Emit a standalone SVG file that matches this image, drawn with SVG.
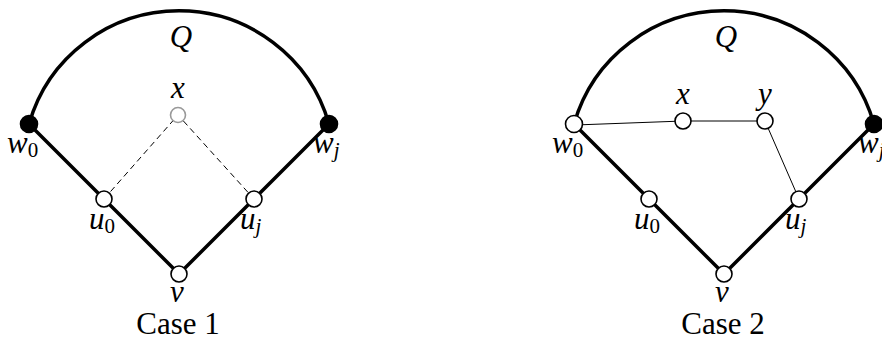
<svg xmlns="http://www.w3.org/2000/svg" width="882" height="345" viewBox="0 0 882 345">
<style>
.thick{fill:none;stroke:#000;stroke-width:3.5;stroke-linecap:round}
.thin{fill:none;stroke:#000;stroke-width:1}
.dash{fill:none;stroke:#000;stroke-width:1;stroke-dasharray:6 4}
.node{fill:#fff;stroke:#000;stroke-width:1.6}
.blk{fill:#000;stroke:#000;stroke-width:1.6}
.gray{fill:#fff;stroke:#999;stroke-width:1.6}
.m{font-family:"Liberation Serif","DejaVu Serif",serif;font-style:italic;font-size:31px;fill:#000}
.s{font-style:normal;font-size:21px}
.sj{font-style:italic;font-size:21px}
.c{font-family:"Liberation Serif","DejaVu Serif",serif;font-size:31px;fill:#000}
</style>
<rect width="882" height="345" fill="#fff"/>
<g id="connectors">
<path class="thick" d="M29 124 A156 156 0 0 1 329 124"/>
<path class="thick" d="M29 124 L179 274 L329 124"/>
<path class="dash" d="M104 199 L178 115 L254 199"/>
<path class="thick" d="M574 124 A156 156 0 0 1 874 124"/>
<path class="thick" d="M574 124 L724 274 L874 124"/>
<path class="thin" d="M575 125 L683 121 L765 121 L799 199"/>
</g>
<g id="case1">
<text class="m" x="181" y="47" text-anchor="middle">Q</text>
<g id="c1-x"><circle class="gray" cx="178" cy="115" r="7.5"/><text class="m" x="178" y="98" text-anchor="middle">x</text></g>
<g id="c1-w0"><circle class="blk" cx="29" cy="124" r="8.5"/><text class="m" x="7" y="153">w<tspan class="s" dy="4">0</tspan></text></g>
<g id="c1-wj"><circle class="blk" cx="329" cy="124" r="8.5"/><text class="m" x="313" y="153">w<tspan class="sj" dy="4">j</tspan></text></g>
<g id="c1-u0"><circle class="node" cx="104" cy="199" r="8"/><text class="m" x="89" y="229">u<tspan class="s" dy="4">0</tspan></text></g>
<g id="c1-uj"><circle class="node" cx="254" cy="199" r="8"/><text class="m" x="240" y="229">u<tspan class="sj" dy="4">j</tspan></text></g>
<g id="c1-v"><circle class="node" cx="179" cy="274" r="8"/><text class="m" x="177" y="302" text-anchor="middle">v</text></g>
<text class="c" x="178" y="334" text-anchor="middle">Case 1</text>
</g>
<g id="case2">
<text class="m" x="726" y="47" text-anchor="middle">Q</text>
<g id="c2-x"><circle class="node" cx="683" cy="121" r="8"/><text class="m" x="683" y="104" text-anchor="middle">x</text></g>
<g id="c2-y"><circle class="node" cx="765" cy="121" r="8"/><text class="m" x="765" y="104" text-anchor="middle">y</text></g>
<g id="c2-w0"><circle class="node" cx="574" cy="124" r="8.5"/><text class="m" x="552" y="153">w<tspan class="s" dy="4">0</tspan></text></g>
<g id="c2-wj"><circle class="blk" cx="874" cy="124" r="8.5"/><text class="m" x="858" y="153">w<tspan class="sj" dy="4">j</tspan></text></g>
<g id="c2-u0"><circle class="node" cx="649" cy="199" r="8"/><text class="m" x="634" y="229">u<tspan class="s" dy="4">0</tspan></text></g>
<g id="c2-uj"><circle class="node" cx="799" cy="199" r="8"/><text class="m" x="785" y="229">u<tspan class="sj" dy="4">j</tspan></text></g>
<g id="c2-v"><circle class="node" cx="724" cy="274" r="8"/><text class="m" x="722" y="302" text-anchor="middle">v</text></g>
<text class="c" x="723" y="334" text-anchor="middle">Case 2</text>
</g>
</svg>
